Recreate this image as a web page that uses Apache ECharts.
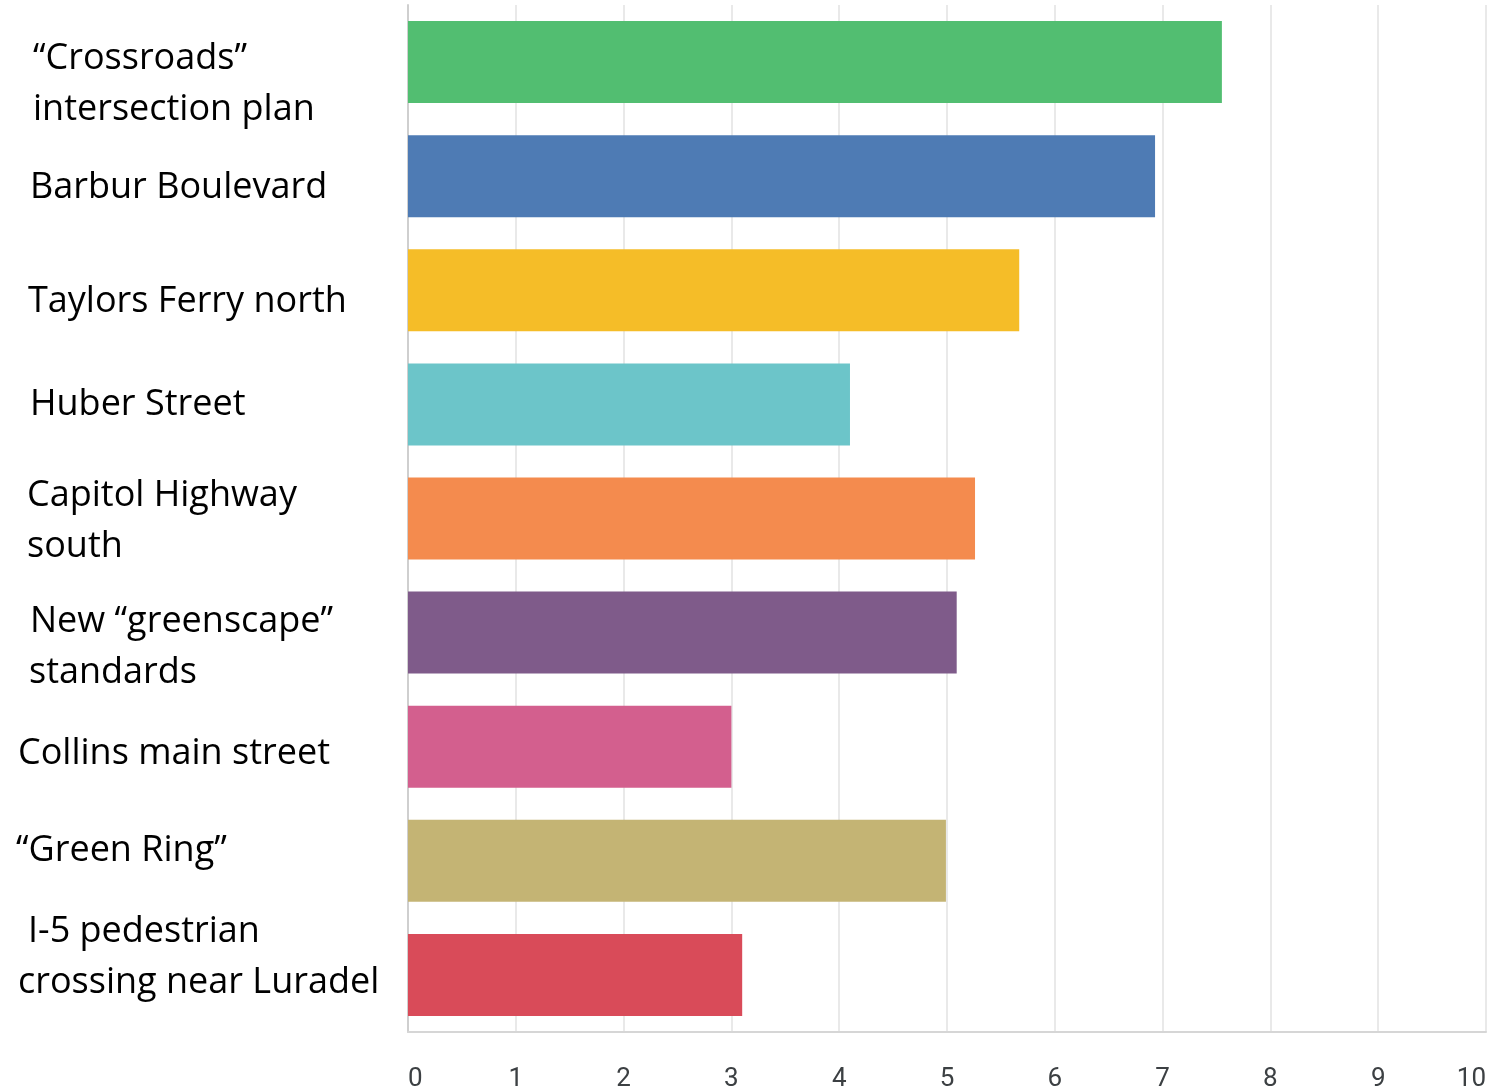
<!DOCTYPE html>
<html>
<head>
<meta charset="utf-8">
<script src="https://cdn.jsdelivr.net/npm/echarts@6/dist/echarts.min.js"></script>
<style>
  html, body { margin: 0; padding: 0; background: #fff; }
  #chart { width: 1491px; height: 1090px; }
</style>
</head>
<body>
<div id="chart"></div>
<script>
// Project options and their scores
const projects = [
  '“Crossroads”\nintersection plan',
  'Barbur Boulevard',
  'Taylors Ferry north',
  'Huber Street',
  'Capitol Highway\nsouth',
  'New “greenscape”\nstandards',
  'Collins main street',
  '“Green Ring”',
  'I-5 pedestrian\ncrossing near Luradel'
];
const scores = [7.55, 6.93, 5.67, 4.1, 5.26, 5.09, 3.0, 4.99, 3.1];
const barColors = ['#52be71', '#4e7bb4', '#f5bd28', '#6cc5c9', '#f48b4e',
                   '#7f5b8a', '#d35f8e', '#c4b474', '#d94b59'];
const xTicks = [0, 1, 2, 3, 4, 5, 6, 7, 8, 9, 10];

// label layout: vertical nudge [top, bottom] per label, left indent per line
const labelShift = [[44, 0], [24, 0], [22, 0], [0, 0], [6, 0], [30, 0], [14, 0], [0, 20], [0, 36]];
const labelIndent = [[17, 17], [14], [12], [14], [11, 11], [14, 13], [2], [0], [12, 2]];

const labelFont = { color: '#000', fontFamily: 'Open Sans', fontSize: 36, lineHeight: 51 };
const rich = {};
labelIndent.forEach((lines, i) => lines.forEach((left, j) => {
  const [top, bottom] = labelShift[i];
  rich['p' + i + '_' + j] = Object.assign({ padding: [top, 0, bottom, left] }, labelFont);
}));

const chart = echarts.init(document.getElementById('chart'));
chart.setOption({
  animation: false,
  grid: { left: 408, right: 5, top: 5, bottom: 58, containLabel: false, outerBoundsMode: 'none' },
  xAxis: {
    type: 'value',
    min: xTicks[0],
    max: xTicks[xTicks.length - 1],
    interval: 1,
    axisLine: { show: true, lineStyle: { color: '#d6d6d6', width: 2 } },
    axisTick: { show: false },
    splitLine: { show: true, lineStyle: { color: '#e9e9e9', width: 2 } },
    axisLabel: {
      color: '#3c4043',
      fontFamily: 'Roboto',
      fontSize: 26,
      margin: 34,
      hideOverlap: false,
      alignMinLabel: 'left',
      alignMaxLabel: 'right',
      formatter: v => String(v)
    }
  },
  yAxis: {
    type: 'category',
    inverse: true,
    data: projects,
    axisLine: { show: true, lineStyle: { color: '#cfcfcf', width: 2 } },
    axisTick: { show: false },
    axisLabel: Object.assign({
      align: 'left',
      margin: 392,
      formatter: (v, i) => v.split('\n').map((s, j) => '{p' + i + '_' + j + '|' + s + '}').join('\n'),
      rich: rich
    }, labelFont)
  },
  series: [{
    type: 'bar',
    barWidth: 82,
    data: scores.map((v, i) => ({ value: v, itemStyle: { color: barColors[i] } }))
  }]
});
</script>
</body>
</html>
